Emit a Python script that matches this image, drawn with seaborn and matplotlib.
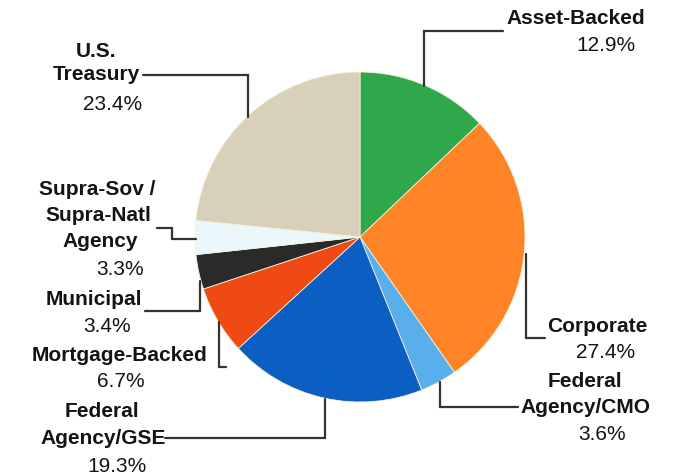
import matplotlib
matplotlib.use("Agg")
import matplotlib.pyplot as plt
import seaborn as sns

# Portfolio composition by sector (percent of holdings), clockwise from 12 o'clock
sectors = [
    "Asset-Backed",
    "Corporate",
    "Federal Agency/CMO",
    "Federal Agency/GSE",
    "Mortgage-Backed",
    "Municipal",
    "Supra-Sov / Supra-Natl Agency",
    "U.S. Treasury",
]
shares = [12.9, 27.4, 3.6, 19.3, 6.7, 3.4, 3.3, 23.4]
name_lines = [
    ["Asset-Backed"],
    ["Corporate"],
    ["Federal", "Agency/CMO"],
    ["Federal", "Agency/GSE"],
    ["Mortgage-Backed"],
    ["Municipal"],
    ["Supra-Sov /", "Supra-Natl", "Agency"],
    ["U.S.", "Treasury"],
]
colors = ["#2ea84b", "#ff8427", "#5aaeec", "#0c5fc2", "#ef4a14",
          "#2a2a2a", "#eaf8fc", "#d9d0b9"]

sns.set_theme(style="white")
plt.rcParams["font.family"] = ["Liberation Sans", "DejaVu Sans"]

W, H = 675, 477
fig = plt.figure(figsize=(W / 100, H / 100), dpi=100)
ax = fig.add_axes([0, 0, 1, 1])

# Pixel-style coordinates: y grows downward, so wedges run clockwise on screen
center = (360, 238)
radius = 165
ax.pie(shares, colors=colors, startangle=-90, counterclock=True,
       center=center, radius=radius,
       wedgeprops=dict(edgecolor="#f6f1da", linewidth=0.6))
ax.set_xlim(0, W)
ax.set_ylim(H, 0)
ax.set_aspect("equal", adjustable="box")
ax.axis("off")

# Label layout: baseline positions for each name line and for the percentage
layout = {
    "Asset-Backed": dict(names=[(576, 24)], pct=(606, 51),
                         leader=[(424, 87), (424, 32), (503, 32)]),
    "Corporate": dict(names=[(597, 332)], pct=(606, 358),
                      leader=[(526, 255), (526, 339), (545, 339)]),
    "Federal Agency/CMO": dict(names=[(585, 387), (585, 413)], pct=(602, 440),
                               leader=[(440, 383), (440, 408), (518, 408)]),
    "Federal Agency/GSE": dict(names=[(102, 417), (103, 444)], pct=(117, 472),
                               leader=[(165, 439), (325, 439), (325, 400)]),
    "Mortgage-Backed": dict(names=[(119, 361)], pct=(121, 387),
                            leader=[(219, 323), (219, 368), (226, 368)]),
    "Municipal": dict(names=[(94, 305)], pct=(107, 332),
                      leader=[(145, 312), (200, 312), (200, 282)]),
    "Supra-Sov / Supra-Natl Agency": dict(
        names=[(97, 195), (98, 221), (100, 247)], pct=(120, 275),
        leader=[(157, 229), (172, 229), (172, 240), (196, 240)]),
    "U.S. Treasury": dict(names=[(96, 57), (96, 80)], pct=(113, 110),
                          leader=[(143, 76), (248, 76), (248, 118)]),
}

text_color = "#141414"
for sector, value, lines in zip(sectors, shares, name_lines):
    spec = layout[sector]
    xs, ys = zip(*spec["leader"])
    ax.plot(xs, ys, color="#333333", lw=1.6, solid_joinstyle="miter", zorder=3)
    for (x, y), line in zip(spec["names"], lines):
        ax.text(x, y, line, ha="center", va="baseline", fontsize=15,
                fontweight="bold", color=text_color, zorder=4)
    px, py = spec["pct"]
    ax.text(px, py, f"{value:.1f}%", ha="center", va="baseline",
            fontsize=15, color=text_color, zorder=4)

fig.savefig("out.png", dpi=100, facecolor="white")
